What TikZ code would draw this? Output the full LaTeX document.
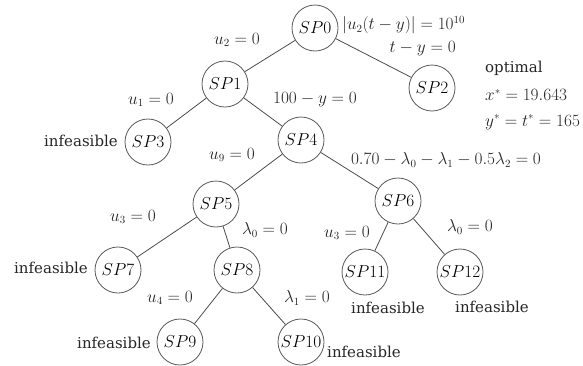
\documentclass[tikz,border=0pt]{standalone}
\usepackage{fontspec}
\setmainfont{DejaVu Serif}
\begin{document}
\begin{tikzpicture}[x=1pt,y=-1pt,
  sp/.style={circle,draw=black!65,line width=0.8pt,minimum size=46pt,inner sep=0pt,font=\fontsize{16}{18}\selectfont},
  lbl/.style={inner sep=0pt,font=\fontsize{16}{18}\selectfont,text=black!85},
  txt/.style={inner sep=0pt,font=\fontsize{15}{17}\selectfont,text=black!85},
  edge/.style={draw=black!70,line width=0.8pt}]
\useasboundingbox (0,0) rectangle (583,365);
\node[sp] (sp0) at (315,28) {$SP0$};
\node[sp] (sp1) at (225,84) {$SP1$};
\node[sp] (sp2) at (432,88) {$SP2$};
\node[sp] (sp3) at (148,142) {$SP3$};
\node[sp] (sp4) at (301,140) {$SP4$};
\node[sp] (sp5) at (216,204) {$SP5$};
\node[sp] (sp6) at (398,201) {$SP6$};
\node[sp] (sp7) at (118,270) {$SP7$};
\node[sp] (sp8) at (237,270) {$SP8$};
\node[sp] (sp9) at (180,342) {$SP9$};
\node[sp] (sp10) at (301,342) {$SP10$};
\node[sp] (sp11) at (365,272) {$SP11$};
\node[sp] (sp12) at (460,272) {$SP12$};
\draw[edge] (sp0) -- (sp1);
\draw[edge] (sp0) -- (sp2);
\draw[edge] (sp1) -- (sp3);
\draw[edge] (sp1) -- (sp4);
\draw[edge] (sp4) -- (sp5);
\draw[edge] (sp4) -- (sp6);
\draw[edge] (sp5) -- (sp7);
\draw[edge] (sp5) -- (sp8);
\draw[edge] (sp8) -- (sp9);
\draw[edge] (sp8) -- (sp10);
\draw[edge] (sp6) -- (sp11);
\draw[edge] (sp6) -- (sp12);
% edge labels
\node[lbl] (l0) at (237,40) {$u_2=0$};
\node[lbl,anchor=west] (l1) at (342,25) {$\left|u_2(t-y)\right|=10^{10}$};
\node[lbl,anchor=east] (l2) at (456,49) {$t-y=0$};
\node[lbl] (l3) at (151,100) {$u_1=0$};
\node[lbl] (l4) at (315,100) {$100-y=0$};
\node[lbl] (l5) at (232,155) {$u_9=0$};
\node[lbl] (l6) at (446,160) {$0.70-\lambda_0-\lambda_1-0.5\lambda_2=0$};
\node[lbl] (l7) at (133,217) {$u_3=0$};
\node[lbl] (l8) at (265,230) {$\lambda_0=0$};
\node[lbl] (l9) at (347,233) {$u_3=0$};
\node[lbl] (l10) at (470,227) {$\lambda_0=0$};
\node[lbl] (l11) at (170,298) {$u_4=0$};
\node[lbl] (l12) at (307,298) {$\lambda_1=0$};
% results
\node[txt,anchor=west] (o1) at (485,68) {optimal};
\node[lbl,anchor=west] (o2) at (485,95) {$x^{*}=19.643$};
\node[lbl,anchor=west] (o3) at (485,122) {$y^{*}=t^{*}=165$};
\node[txt,anchor=east] (i3) at (118,141) {infeasible};
\node[txt,anchor=east] (i7) at (88,268) {infeasible};
\node[txt,anchor=east] (i9) at (151,343) {infeasible};
\node[txt,anchor=west] (i10) at (327,352) {infeasible};
\node[txt] (i11) at (388,308) {infeasible};
\node[txt] (i12) at (492,307) {infeasible};
\end{tikzpicture}
\end{document}
